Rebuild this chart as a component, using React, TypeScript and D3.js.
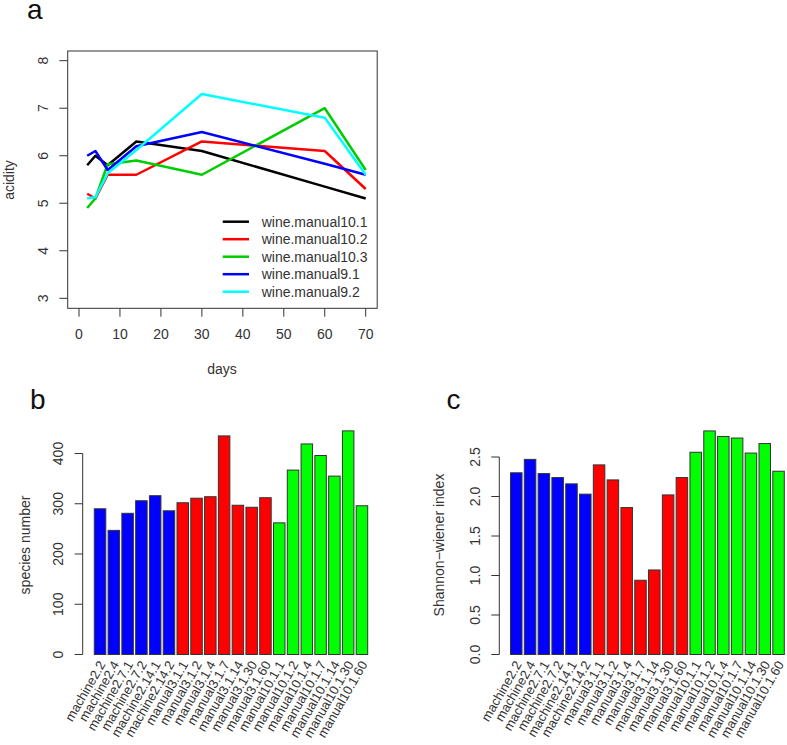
import React from "react";
import * as d3 from "d3";

const days = [2, 4, 7, 14, 30, 60, 70];
const seriesNames = ["wine.manual10.1", "wine.manual10.2", "wine.manual10.3", "wine.manual9.1", "wine.manual9.2"];
const seriesColors = ["#000000", "#FF0000", "#00CD00", "#0000FF", "#00FFFF"];
const manual10_1 = [5.8, 6.0, 5.8, 6.3, 6.1, 5.35, 5.1];
const manual10_2 = [5.2, 5.1, 5.6, 5.6, 6.3, 6.1, 5.3];
const manual10_3 = [4.9, 5.1, 5.82, 5.9, 5.6, 7.0, 5.7];
const manual9_1 = [6.0, 6.1, 5.7, 6.2, 6.5, 5.83, 5.6];
const manual9_2 = [5.1, 5.13, 5.63, 6.12, 7.3, 6.8, 5.6];
const seriesValues = [manual10_1, manual10_2, manual10_3, manual9_1, manual9_2];

const sampleNames = [
  "machine2.2", "machine2.4", "machine2.7.1", "machine2.7.2", "machine2.14.1", "machine2.14.2",
  "manual3.1.1", "manual3.1.2", "manual3.1.4", "manual3.1.7", "manual3.1.14", "manual3.1.30", "manual3.1.60",
  "manual10.1.1", "manual10.1.2", "manual10.1.4", "manual10.1.7", "manual10.1.14", "manual10.1.30", "manual10.1.60",
];
const sampleColors = [
  "#0000FF", "#0000FF", "#0000FF", "#0000FF", "#0000FF", "#0000FF",
  "#FF0000", "#FF0000", "#FF0000", "#FF0000", "#FF0000", "#FF0000", "#FF0000",
  "#00FF00", "#00FF00", "#00FF00", "#00FF00", "#00FF00", "#00FF00", "#00FF00",
];
const speciesNumber = [290, 247, 281, 306, 316, 286, 302, 311, 314, 435, 297, 293, 312, 262, 367, 419, 396, 355, 445, 296];
const shannon = [2.30, 2.47, 2.29, 2.24, 2.16, 2.03, 2.40, 2.21, 1.86, 0.94, 1.07, 2.02, 2.24, 2.56, 2.83, 2.76, 2.74, 2.55, 2.67, 2.32];

const xTicksA = [0, 10, 20, 30, 40, 50, 60, 70];
const yTicksA = [3, 4, 5, 6, 7, 8];
const yTicksB = [0, 100, 200, 300, 400];
const yTicksC = [0, 0.5, 1.0, 1.5, 2.0, 2.5];

const FONT = "'Liberation Sans', Arial, Helvetica, sans-serif";
const AX = "#333";

function BarPanel({ values, ticks, tickFmt, yTop, x0, x1, axisX, labelX, titleX, title, letter, letterX }: any) {
  const xs = d3.scaleBand<string>().domain(sampleNames).range([x0, x1]).paddingInner(1 / 6).paddingOuter(0);
  const ys = d3.scaleLinear().domain([0, ticks[ticks.length - 1]]).range([654.5, yTop]);
  return (
    <g>
      <text x={letterX} y={409} fontSize={28} fill="#111">{letter}</text>
      {values.map((v: number, i: number) => (
        <rect key={i} x={xs(sampleNames[i])} y={ys(v)} width={xs.bandwidth()} height={ys(0) - ys(v)}
          fill={sampleColors[i]} stroke="#333" strokeWidth={1} />
      ))}
      <line x1={axisX} x2={axisX} y1={ys(ticks[0])} y2={ys(ticks[ticks.length - 1])} stroke={AX} />
      {ticks.map((t: number) => (
        <g key={t}>
          <line x1={axisX - 8} x2={axisX} y1={ys(t)} y2={ys(t)} stroke={AX} />
          <text transform={`translate(${labelX},${ys(t)}) rotate(-90)`} textAnchor="middle" dominantBaseline="central" fontSize={14} fill="#333">{tickFmt(t)}</text>
        </g>
      ))}
      <text transform={`translate(${titleX},545) rotate(-90)`} textAnchor="middle" dominantBaseline="central" fontSize={14} fill="#333">{title}</text>
      {sampleNames.map((n, i) => (
        <text key={n} transform={`translate(${(xs(n) as number) + xs.bandwidth() / 2 + 2},662) rotate(-60)`} textAnchor="end" dominantBaseline="central" fontSize={13} fill="#333">{n}</text>
      ))}
    </g>
  );
}

export default function App() {
  const xA = d3.scaleLinear().domain([0, 70]).range([79, 365.7]);
  const yA = d3.scaleLinear().domain([3, 8]).range([298.3, 60.7]);
  const line = d3.line<number>().x((_, i) => xA(days[i])).y((d) => yA(d));
  return (
    <svg width={787} height={745} style={{ position: "absolute", left: 0, top: 0, background: "#fff" }} fontFamily={FONT}>
      <rect width={787} height={745} fill="#fff" />
      {/* Panel a */}
      <text x={27} y={18.5} fontSize={28} fill="#111">a</text>
      {seriesValues.map((s, k) => (
        <path key={k} d={line(s) as string} fill="none" stroke={seriesColors[k]} strokeWidth={2.5} strokeLinejoin="round" />
      ))}
      <rect x={67.7} y={51} width={309.5} height={257.3} fill="none" stroke={AX} strokeWidth={1} />
      {xTicksA.map((t) => (
        <g key={t}>
          <line x1={xA(t)} x2={xA(t)} y1={308.3} y2={316.7} stroke={AX} />
          <text x={xA(t)} y={334} textAnchor="middle" dominantBaseline="central" fontSize={14} fill="#333">{t}</text>
        </g>
      ))}
      {yTicksA.map((t) => (
        <g key={t}>
          <line x1={59.3} x2={67.7} y1={yA(t)} y2={yA(t)} stroke={AX} />
          <text transform={`translate(42.7,${yA(t)}) rotate(-90)`} textAnchor="middle" dominantBaseline="central" fontSize={14} fill="#333">{t}</text>
        </g>
      ))}
      <text x={222} y={369} textAnchor="middle" dominantBaseline="central" fontSize={14} fill="#333">days</text>
      <text transform="translate(9,180) rotate(-90)" textAnchor="middle" dominantBaseline="central" fontSize={14} fill="#333">acidity</text>
      {seriesNames.map((n, k) => (
        <g key={n}>
          <line x1={222.7} x2={249} y1={221.7 + k * 17.5} y2={221.7 + k * 17.5} stroke={seriesColors[k]} strokeWidth={2.5} />
          <text x={261.7} y={221.7 + k * 17.5} dominantBaseline="central" fontSize={14} fill="#333">{n}</text>
        </g>
      ))}
      {/* Panel b */}
      <BarPanel values={speciesNumber} ticks={yTicksB} tickFmt={(t: number) => String(t)} yTop={453.5}
        x0={94.3} x1={367.7} axisX={82.7} labelX={58.3} titleX={25} title="species number" letter="b" letterX={30} />
      {/* Panel c */}
      <BarPanel values={shannon} ticks={yTicksC} tickFmt={(t: number) => t.toFixed(1)} yTop={457}
        x0={510.5} x1={784.3} axisX={499.3} labelX={475} titleX={439} title="Shannon−wiener index" letter="c" letterX={446.5} />
    </svg>
  );
}
